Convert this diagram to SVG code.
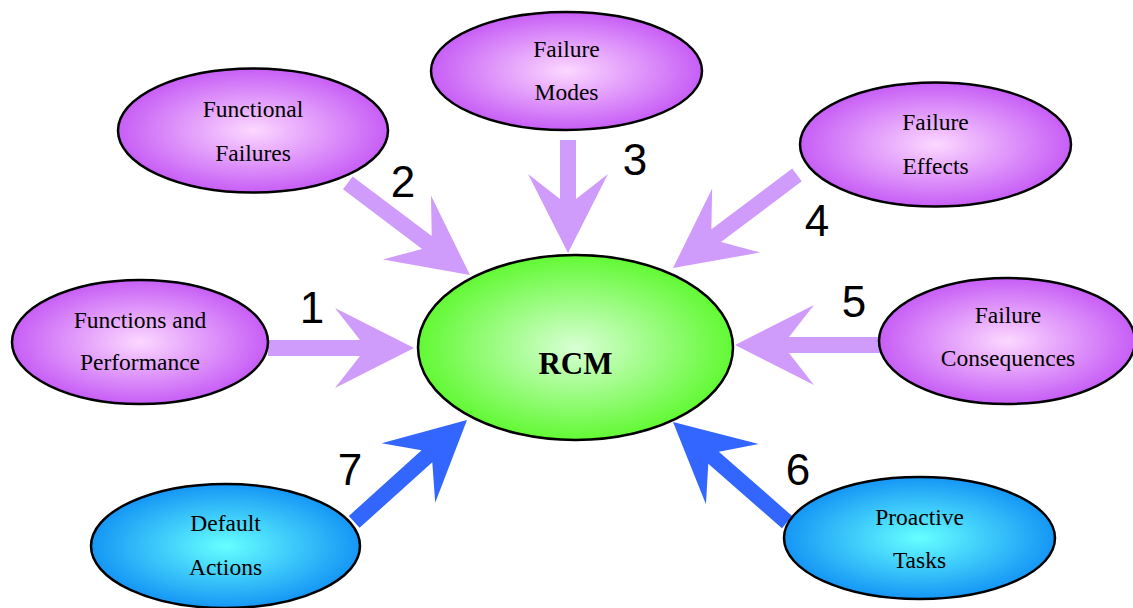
<svg xmlns="http://www.w3.org/2000/svg" width="1133" height="608" viewBox="0 0 1133 608">
<defs>
<radialGradient id="gPurple" cx="50%" cy="50%" r="50%">
<stop offset="0" stop-color="#fcd8ff"/>
<stop offset="1" stop-color="#c75ef6"/>
</radialGradient>
<radialGradient id="gGreen" cx="50%" cy="50%" r="50%">
<stop offset="0" stop-color="#d8ffd4"/>
<stop offset="1" stop-color="#62f934"/>
</radialGradient>
<radialGradient id="gBlue" cx="50%" cy="50%" r="50%">
<stop offset="0" stop-color="#66ffff"/>
<stop offset="1" stop-color="#1596f5"/>
</radialGradient>
</defs>
<style>
.node{stroke:#000;stroke-width:2.5}
.p{fill:url(#gPurple)}
.g{fill:url(#gGreen)}
.b{fill:url(#gBlue)}
.lbl{font-family:"Liberation Serif","Times New Roman",serif;font-size:23.5px;fill:#000;text-anchor:middle}
.rcm{font-family:"Liberation Serif","Times New Roman",serif;font-size:31px;font-weight:bold;fill:#000;text-anchor:middle}
.num{font-family:"Liberation Sans",Arial,sans-serif;font-size:44px;fill:#000;text-anchor:middle}
.ap{fill:#cf9cfc}
.ab{fill:#3366ff}
</style>
<g id="connectors">
<path class="ap" transform="translate(414,348)" d="M0,0 L-79,-40 L-54,-8 L-146,-8 L-146,8 L-54,8 L-79,40 Z"/>
<path class="ap" transform="translate(470,275) rotate(37)" d="M0,0 L-79,-40 L-54,-8 L-153,-8 L-153,8 L-54,8 L-79,40 Z"/>
<path class="ap" transform="translate(568,253) rotate(90)" d="M0,0 L-79,-40 L-54,-8 L-113,-8 L-113,8 L-54,8 L-79,40 Z"/>
<path class="ap" transform="translate(673,268) rotate(143.1)" d="M0,0 L-79,-40 L-54,-8 L-155,-8 L-155,8 L-54,8 L-79,40 Z"/>
<path class="ap" transform="translate(735,345) rotate(180)" d="M0,0 L-79,-40 L-54,-8 L-146,-8 L-146,8 L-54,8 L-79,40 Z"/>
<path class="ab" transform="translate(673,422) rotate(-138.7)" d="M0,0 L-79,-40 L-54,-8 L-152,-8 L-152,8 L-54,8 L-79,40 Z"/>
<path class="ab" transform="translate(467,420) rotate(-42.1)" d="M0,0 L-79,-40 L-54,-8 L-152,-8 L-152,8 L-54,8 L-79,40 Z"/>
<text class="num" x="312" y="323">1</text>
<text class="num" x="403" y="197">2</text>
<text class="num" x="635" y="175">3</text>
<text class="num" x="817" y="236">4</text>
<text class="num" x="854" y="317">5</text>
<text class="num" x="798" y="485">6</text>
<text class="num" x="350" y="485">7</text>
</g>
<g id="functional-failures">
<ellipse class="node p" cx="253" cy="130.5" rx="135" ry="62"/>
<text class="lbl" x="253" y="117">Functional</text>
<text class="lbl" x="253" y="161">Failures</text>
</g>
<g id="failure-modes">
<ellipse class="node p" cx="566.5" cy="71" rx="135.5" ry="59"/>
<text class="lbl" x="566.5" y="57">Failure</text>
<text class="lbl" x="566.5" y="100">Modes</text>
</g>
<g id="failure-effects">
<ellipse class="node p" cx="935.5" cy="144.5" rx="135.5" ry="62"/>
<text class="lbl" x="935.5" y="130">Failure</text>
<text class="lbl" x="935.5" y="174">Effects</text>
</g>
<g id="functions-performance">
<ellipse class="node p" cx="140" cy="342" rx="128" ry="62"/>
<text class="lbl" x="140" y="328">Functions and</text>
<text class="lbl" x="140" y="370">Performance</text>
</g>
<g id="rcm">
<ellipse class="node g" cx="575.5" cy="347.5" rx="157.5" ry="92.5"/>
<text class="rcm" x="575.5" y="374">RCM</text>
</g>
<g id="failure-consequences">
<ellipse class="node p" cx="1007" cy="341" rx="128" ry="63"/>
<text class="lbl" x="1008" y="323">Failure</text>
<text class="lbl" x="1008" y="366">Consequences</text>
</g>
<g id="default-actions">
<ellipse class="node b" cx="225.5" cy="546" rx="134.5" ry="62"/>
<text class="lbl" x="225.5" y="531">Default</text>
<text class="lbl" x="225.5" y="575">Actions</text>
</g>
<g id="proactive-tasks">
<ellipse class="node b" cx="919.5" cy="538" rx="135.5" ry="61"/>
<text class="lbl" x="919.5" y="525">Proactive</text>
<text class="lbl" x="919.5" y="568">Tasks</text>
</g>
</svg>
